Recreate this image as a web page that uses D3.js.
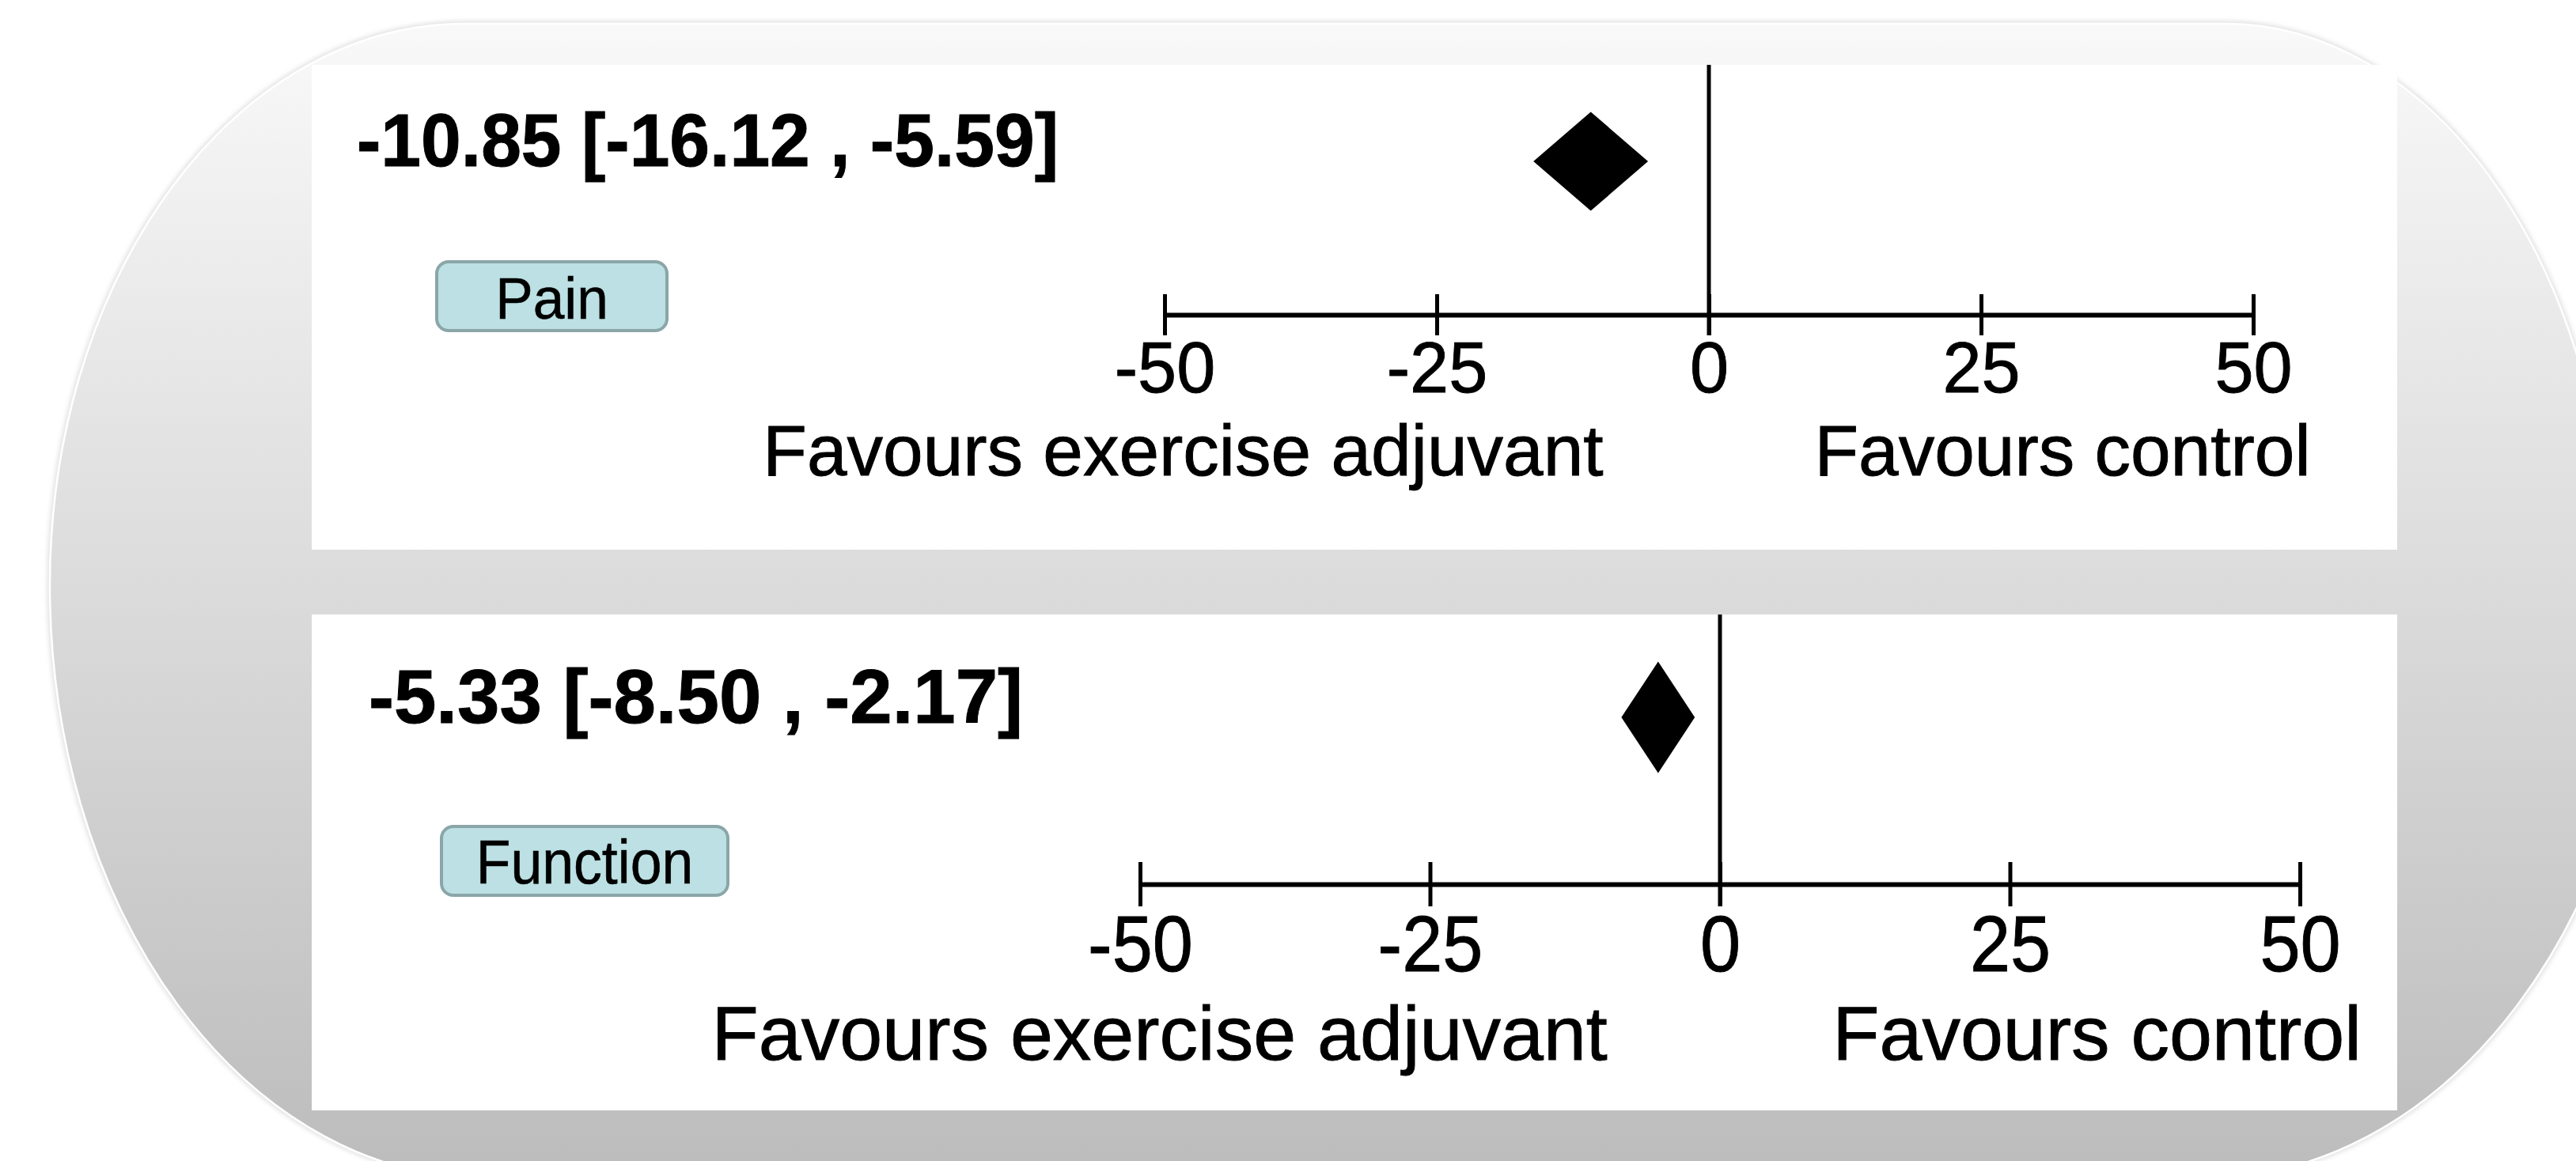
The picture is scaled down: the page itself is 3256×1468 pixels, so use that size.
<!DOCTYPE html>
<html>
<head>
<meta charset="utf-8">
<script src="https://cdn.jsdelivr.net/npm/d3@7"></script>
<style>
  html, body { margin: 0; padding: 0; background: #ffffff; }
  svg { display: block; }
  text { font-family: "Liberation Sans", Arial, Helvetica, sans-serif; fill: #000; }
</style>
</head>
<body>
<svg id="chart" width="3256" height="1468"></svg>
<script>
// ---------------- data ----------------
const outcomes = ["Pain", "Function"];
const estimates = [-10.85, -5.33];
const ciLower = [-16.12, -8.50];
const ciUpper = [-5.59, -2.17];
const tickValues = [-50, -25, 0, 25, 50];
const xDomain = [-50, 50];
const leftLabel = "Favours exercise adjuvant";
const rightLabel = "Favours control";
const labelOffset = 9.7; // data units from the null line where the side labels sit

// ---------------- layout (style only) ----------------
const layout = [
  { top: 82, bottom: 695, axisY: 398, x0: 1472, x1: 2848, dCY: 204, dH: 62.5,
    headX: 451, headY: 210, headFS: 95, headSX: 0.96,
    boxX: 552, boxY: 331, boxW: 291, boxH: 87, boxFS: 75, boxSX: 0.95, boxTY: 403,
    tickFS: 91, tickSX: 0.97, tickDY: 98, tickLen: 26, favFS: 91, favY: 601 },
  { top: 777, bottom: 1404, axisY: 1118, x0: 1441, x1: 2907, dCY: 907, dH: 70.5,
    headX: 466, headY: 914, headFS: 96, headSX: 1.0,
    boxX: 558, boxY: 1045, boxW: 362, boxH: 87, boxFS: 77, boxSX: 0.93, boxTY: 1117,
    tickFS: 101, tickSX: 0.91, tickDY: 110, tickLen: 28, favFS: 97, favY: 1340 }
];
const panelLeft = 394, panelRight = 3030;
const textStroke = 0.9;

const svg = d3.select("#chart");
const defs = svg.append("defs");

const grad = defs.append("linearGradient")
  .attr("id", "bgGrad").attr("gradientUnits", "userSpaceOnUse")
  .attr("x1", 0).attr("y1", 30).attr("x2", 0).attr("y2", 1490);
grad.append("stop").attr("offset", 0).attr("stop-color", "#f9f9f9");
grad.append("stop").attr("offset", 1).attr("stop-color", "#bcbcbc");

const blur = defs.append("filter").attr("id", "soft")
  .attr("x", "-5%").attr("y", "-5%").attr("width", "110%").attr("height", "110%");
blur.append("feGaussianBlur").attr("stdDeviation", 3);

// background rounded shape
const bgPath = "M 587 30 H 2813 A 487 710 0 0 1 3300 740 L 3347 740 " +
  "A 562 750 0 0 1 2785 1490 H 614 A 551 750 0 0 1 63 740 A 524 710 0 0 1 587 30 Z";
svg.append("path").attr("d", bgPath).attr("fill", "none")
  .attr("stroke", "#d6d6d6").attr("stroke-width", 5).attr("filter", "url(#soft)");
svg.append("path").attr("d", bgPath).attr("fill", "url(#bgGrad)")
  .attr("stroke", "#ffffff").attr("stroke-width", 2.5);

outcomes.forEach((name, i) => {
  const L = layout[i];
  const g = svg.append("g");

  // white panel
  g.append("rect")
    .attr("x", panelLeft).attr("y", L.top)
    .attr("width", panelRight - panelLeft).attr("height", L.bottom - L.top)
    .attr("fill", "#ffffff");

  const x = d3.scaleLinear().domain(xDomain).range([L.x0, L.x1]);

  // axis
  const axis = d3.axisBottom(x).tickValues(tickValues)
    .tickSizeInner(L.tickLen).tickSizeOuter(0).tickFormat(d3.format("d"));
  const ag = g.append("g").attr("transform", `translate(0,${L.axisY})`).call(axis);
  ag.select(".domain").attr("stroke", "#000").attr("stroke-width", 6);
  ag.selectAll(".tick line").attr("y1", -L.tickLen).attr("y2", L.tickLen)
    .attr("stroke", "#000").attr("stroke-width", 5);
  ag.selectAll(".tick text")
    .attr("y", 0).attr("dy", 0)
    .attr("transform", `translate(0,${L.tickDY}) scale(${L.tickSX},1)`)
    .attr("font-size", L.tickFS)
    .attr("font-family", "'Liberation Sans', Arial, Helvetica, sans-serif")
    .attr("fill", "#000").attr("stroke", "#000").attr("stroke-width", textStroke)
    .text(d => d < 0 ? "-" + Math.abs(d) : String(d));

  // null line
  g.append("line")
    .attr("x1", x(0)).attr("x2", x(0))
    .attr("y1", L.top).attr("y2", L.axisY + L.tickLen)
    .attr("stroke", "#000").attr("stroke-width", 5);

  // diamond (pooled estimate with CI)
  const dPts = [
    [x(ciLower[i]), L.dCY],
    [x(estimates[i]), L.dCY - L.dH],
    [x(ciUpper[i]), L.dCY],
    [x(estimates[i]), L.dCY + L.dH]
  ];
  g.append("path")
    .attr("d", d3.line()(dPts) + "Z")
    .attr("fill", "#000");

  // header with estimate
  const fmt = v => v.toFixed(2);
  g.append("text")
    .attr("transform", `translate(${L.headX},${L.headY}) scale(${L.headSX},1)`)
    .attr("font-size", L.headFS).attr("font-weight", "bold")
    .attr("stroke", "#000").attr("stroke-width", 1)
    .text(`${fmt(estimates[i])} [${fmt(ciLower[i])} , ${fmt(ciUpper[i])}]`);

  // outcome label box
  g.append("rect")
    .attr("x", L.boxX).attr("y", L.boxY)
    .attr("width", L.boxW).attr("height", L.boxH)
    .attr("rx", 15).attr("ry", 15)
    .attr("fill", "#bce0e3").attr("stroke", "#8ba6a8").attr("stroke-width", 4);
  g.append("text")
    .attr("transform", `translate(${L.boxX + L.boxW / 2},${L.boxTY}) scale(${L.boxSX},1)`)
    .attr("text-anchor", "middle")
    .attr("font-size", L.boxFS)
    .attr("stroke", "#000").attr("stroke-width", 0.6)
    .text(name);

  // side labels
  g.append("text")
    .attr("transform", `translate(${x(-labelOffset)},${L.favY})`)
    .attr("text-anchor", "end").attr("font-size", L.favFS)
    .attr("stroke", "#000").attr("stroke-width", textStroke)
    .text(leftLabel);
  g.append("text")
    .attr("transform", `translate(${x(labelOffset)},${L.favY})`)
    .attr("text-anchor", "start").attr("font-size", L.favFS)
    .attr("stroke", "#000").attr("stroke-width", textStroke)
    .text(rightLabel);
});
</script>
</body>
</html>
